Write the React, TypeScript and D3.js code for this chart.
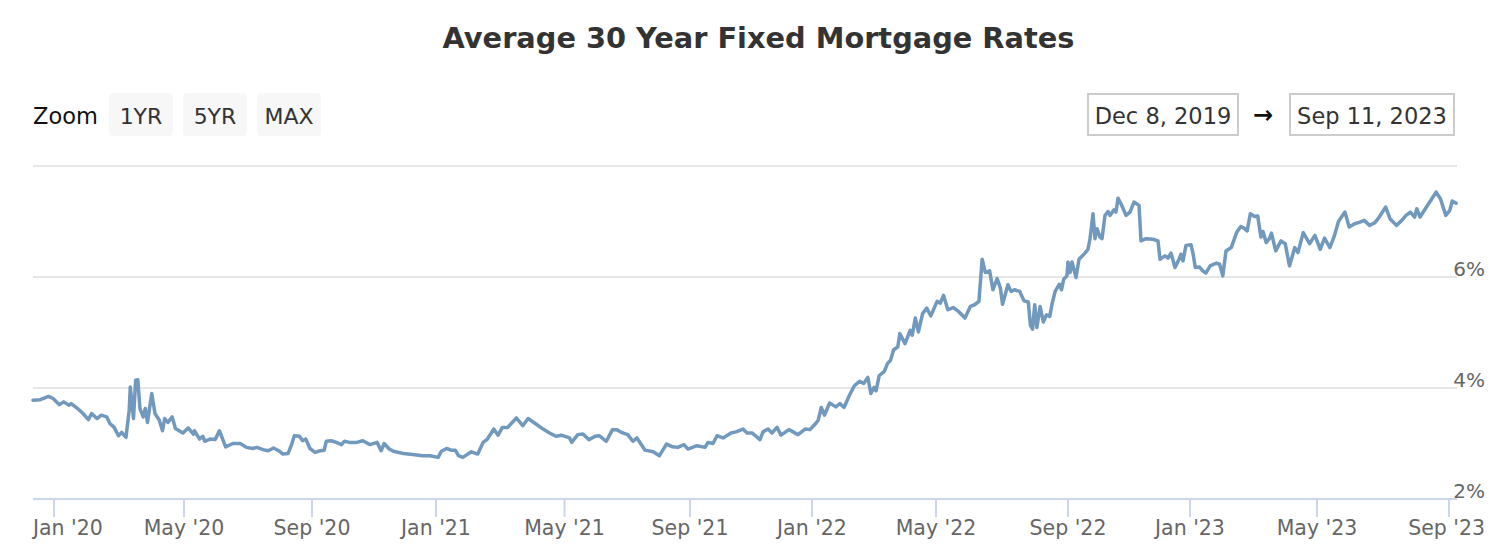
import React, { useEffect, useRef } from "react";
import * as d3 from "d3";

const TITLE = "Average 30 Year Fixed Mortgage Rates";
const ZOOM_LABEL = "Zoom";
const ZOOM_BUTTONS = ["1YR", "5YR", "MAX"];
const RANGE_FROM = "Dec 8, 2019";
const RANGE_TO = "Sep 11, 2023";
const Y_GRID = [4, 6, 8];
const Y_LABELLED = [2, 4, 6];

const DATES = [
  "2019-12-09","2019-12-17","2019-12-26","2019-12-31","2020-01-06","2020-01-10","2020-01-15","2020-01-17","2020-01-23","2020-01-28",
  "2020-02-02","2020-02-05","2020-02-10","2020-02-14","2020-02-19","2020-02-22","2020-02-26","2020-03-01","2020-03-04","2020-03-08",
  "2020-03-11","2020-03-12","2020-03-15","2020-03-17","2020-03-19","2020-03-21","2020-03-24","2020-03-26","2020-03-28","2020-04-01",
  "2020-04-04","2020-04-08","2020-04-11","2020-04-13","2020-04-16","2020-04-20","2020-04-23","2020-04-30","2020-05-05","2020-05-10",
  "2020-05-11","2020-05-16","2020-05-19","2020-05-21","2020-05-26","2020-05-31","2020-06-04","2020-06-10","2020-06-17","2020-06-24",
  "2020-06-30","2020-07-06","2020-07-10","2020-07-16","2020-07-21","2020-07-26","2020-07-31","2020-08-04","2020-08-09","2020-08-12",
  "2020-08-15","2020-08-20","2020-08-23","2020-08-26","2020-08-30","2020-09-04","2020-09-09","2020-09-13","2020-09-15","2020-09-20",
  "2020-09-25","2020-09-30","2020-10-03","2020-10-08","2020-10-15","2020-10-21","2020-10-28","2020-11-04","2020-11-08","2020-11-11",
  "2020-11-16","2020-11-20","2020-11-30","2020-12-09","2020-12-19","2020-12-26","2021-01-03","2021-01-06","2021-01-11","2021-01-15",
  "2021-01-19","2021-01-22","2021-01-26","2021-02-03","2021-02-09","2021-02-14","2021-02-18","2021-02-24","2021-02-28","2021-03-04",
  "2021-03-09","2021-03-17","2021-03-23","2021-03-28","2021-04-03","2021-04-11","2021-04-17","2021-04-23","2021-04-28","2021-05-06",
  "2021-05-08","2021-05-14","2021-05-19","2021-05-25","2021-05-31","2021-06-04","2021-06-11","2021-06-17","2021-06-21","2021-06-27",
  "2021-07-02","2021-07-07","2021-07-11","2021-07-19","2021-07-27","2021-08-02","2021-08-09","2021-08-15","2021-08-20","2021-08-26",
  "2021-08-30","2021-09-08","2021-09-16","2021-09-19","2021-09-24","2021-09-28","2021-10-04","2021-10-12","2021-10-17","2021-10-24",
  "2021-10-28","2021-11-02","2021-11-10","2021-11-13","2021-11-18","2021-11-22","2021-11-27","2021-12-01","2021-12-09","2021-12-18",
  "2021-12-25","2021-12-30","2022-01-05","2022-01-07","2022-01-10","2022-01-13","2022-01-18","2022-01-24","2022-01-28","2022-02-01",
  "2022-02-06","2022-02-11","2022-02-16","2022-02-20","2022-02-24","2022-02-27","2022-03-02","2022-03-04","2022-03-07","2022-03-12",
  "2022-03-15","2022-03-18","2022-03-21","2022-03-25","2022-03-27","2022-04-01","2022-04-06","2022-04-08","2022-04-11","2022-04-14",
  "2022-04-18","2022-04-22","2022-04-26","2022-05-02","2022-05-05","2022-05-08","2022-05-12","2022-05-17","2022-05-22","2022-05-28",
  "2022-06-02","2022-06-06","2022-06-10","2022-06-13","2022-06-16","2022-06-20","2022-06-23","2022-06-27","2022-06-30","2022-07-02",
  "2022-07-07","2022-07-10","2022-07-13","2022-07-18","2022-07-22","2022-07-26","2022-07-28","2022-07-30","2022-08-01","2022-08-03",
  "2022-08-06","2022-08-09","2022-08-12","2022-08-15","2022-08-17","2022-08-20","2022-08-24","2022-08-26","2022-08-28","2022-08-31",
  "2022-09-01","2022-09-03","2022-09-05","2022-09-09","2022-09-12","2022-09-18","2022-09-21","2022-09-23","2022-09-26","2022-09-28",
  "2022-09-30","2022-10-03","2022-10-05","2022-10-08","2022-10-11","2022-10-13","2022-10-17","2022-10-19","2022-10-21","2022-10-24",
  "2022-10-29","2022-11-02","2022-11-06","2022-11-11","2022-11-13","2022-11-18","2022-11-25","2022-11-30","2022-12-02","2022-12-07",
  "2022-12-10","2022-12-13","2022-12-17","2022-12-21","2022-12-23","2022-12-25","2022-12-28","2023-01-02","2023-01-04","2023-01-06",
  "2023-01-10","2023-01-13","2023-01-16","2023-01-20","2023-01-26","2023-01-29","2023-02-01","2023-02-04","2023-02-09","2023-02-14",
  "2023-02-18","2023-02-21","2023-02-24","2023-02-27","2023-03-03","2023-03-06","2023-03-09","2023-03-11","2023-03-14","2023-03-17",
  "2023-03-19","2023-03-23","2023-03-28","2023-04-01","2023-04-05","2023-04-10","2023-04-13","2023-04-18","2023-04-24","2023-04-29",
  "2023-05-04","2023-05-08","2023-05-13","2023-05-17","2023-05-21","2023-05-27","2023-05-31","2023-06-05","2023-06-10","2023-06-14",
  "2023-06-19","2023-06-24","2023-06-28","2023-07-04","2023-07-08","2023-07-14","2023-07-19","2023-07-23","2023-07-27","2023-07-31",
  "2023-08-02","2023-08-05","2023-08-11","2023-08-16","2023-08-20","2023-08-24","2023-08-29","2023-09-02","2023-09-05","2023-09-10"
];

const RATES = [
  3.78,3.79,3.85,3.81,3.70,3.75,3.69,3.72,3.63,3.54,
  3.43,3.54,3.45,3.51,3.48,3.36,3.29,3.14,3.20,3.11,
  3.60,4.02,3.45,4.14,4.15,3.63,3.48,3.63,3.38,3.90,
  3.54,3.42,3.23,3.45,3.38,3.48,3.27,3.19,3.28,3.17,
  3.23,3.08,3.13,3.04,3.08,3.07,3.23,2.94,3.00,3.00,
  2.93,2.91,2.93,2.89,2.87,2.92,2.87,2.81,2.82,2.96,
  3.14,3.13,3.05,3.08,2.91,2.84,2.87,2.88,3.04,3.05,
  3.02,2.98,3.04,3.02,3.02,3.05,2.98,3.02,2.87,3.00,
  2.90,2.86,2.82,2.80,2.78,2.78,2.75,2.86,2.91,2.88,
  2.88,2.78,2.75,2.85,2.81,3.02,3.08,3.26,3.15,3.29,
  3.29,3.46,3.32,3.45,3.37,3.26,3.19,3.13,3.15,3.10,
  3.02,3.16,3.17,3.07,3.13,3.14,3.04,3.25,3.25,3.19,
  3.16,3.04,3.10,2.88,2.85,2.78,2.99,2.94,2.93,2.98,
  2.90,2.96,2.93,3.02,3.00,3.14,3.10,3.19,3.21,3.26,
  3.19,3.19,3.07,3.21,3.26,3.19,3.29,3.15,3.25,3.16,
  3.26,3.25,3.37,3.42,3.65,3.51,3.73,3.66,3.72,3.65,
  3.86,4.04,4.12,4.08,4.19,3.90,4.01,3.95,4.22,4.30,
  4.44,4.50,4.69,4.74,4.98,4.80,5.04,4.95,5.26,5.01,
  5.34,5.44,5.30,5.56,5.53,5.67,5.41,5.45,5.38,5.26,
  5.47,5.50,5.56,6.32,6.08,6.11,5.77,5.97,5.80,5.51,
  5.86,5.74,5.77,5.74,5.57,5.55,5.13,5.06,5.50,5.09,
  5.47,5.19,5.32,5.29,5.50,5.74,5.87,5.77,5.96,6.02,
  6.27,6.08,6.27,5.99,6.32,6.43,6.50,6.69,7.14,6.69,
  6.87,6.72,6.69,7.11,7.18,7.11,7.21,7.17,7.42,7.32,
  7.11,7.17,7.35,7.29,6.65,6.69,6.68,6.65,6.32,6.38,
  6.34,6.43,6.17,6.32,6.41,6.29,6.57,6.58,6.41,6.17,
  6.18,6.11,6.07,6.20,6.25,6.23,6.02,6.47,6.53,6.80,
  6.91,6.88,6.83,7.14,7.09,7.10,6.72,6.82,6.62,6.69,
  6.79,6.47,6.65,6.60,6.20,6.53,6.44,6.80,6.60,6.75,
  6.50,6.70,6.53,6.73,7.00,7.17,6.90,6.96,6.99,7.02,
  6.93,6.98,7.08,7.26,7.05,6.93,7.02,7.11,7.17,7.08,
  7.23,7.08,7.26,7.41,7.53,7.41,7.11,7.20,7.37,7.33
];

// Ordinal (business-day) axis calibration: dates and where they sit.
const AXIS_ANCHOR_DATES = [
  "2019-12-09","2020-01-01","2020-05-01","2020-09-01","2021-01-01","2021-05-01","2021-09-01",
  "2022-01-01","2022-05-01","2022-09-01","2023-01-01","2023-05-01","2023-09-01","2023-09-11"
];

const FONT = "'DejaVu Sans', Verdana, sans-serif";

export default function App() {
  const ref = useRef<SVGSVGElement>(null);

  useEffect(() => {
    const svg = d3.select(ref.current);
    svg.selectAll("*").remove();

    const plotL = 33, plotR = 1457;
    const parse = d3.timeParse("%Y-%m-%d");
    const data = DATES.map((d, i) => ({ date: parse(d) as Date, v: RATES[i] }));

    const anchorX = [33, 54, 184, 312, 436, 564.5, 690, 812, 936, 1068, 1190, 1317, 1449, 1457];
    const x = d3.scaleTime<number>()
      .domain(AXIS_ANCHOR_DATES.map((d) => parse(d) as Date))
      .range(anchorX);
    const y = d3.scaleLinear().domain([2, 8]).range([499, 166]);

    // Title
    svg.append("text")
      .attr("x", 758.5).attr("y", 48)
      .attr("text-anchor", "middle")
      .attr("font-family", FONT).attr("font-weight", "bold")
      .attr("font-size", 28.8).attr("fill", "#333333")
      .text(TITLE);

    // Zoom label and buttons
    svg.append("text")
      .attr("x", 33).attr("y", 124)
      .attr("font-family", FONT).attr("font-size", 22.5).attr("fill", "#111")
      .text(ZOOM_LABEL);
    ZOOM_BUTTONS.forEach((b, i) => {
      const bx = 109 + i * 74;
      svg.append("rect")
        .attr("x", bx).attr("y", 93).attr("width", 64).attr("height", 43)
        .attr("rx", 4).attr("fill", "#f7f7f7");
      svg.append("text")
        .attr("x", bx + 32).attr("y", 124).attr("text-anchor", "middle")
        .attr("font-family", FONT).attr("font-size", 22).attr("fill", "#333333")
        .text(b);
    });

    // Range inputs
    const boxes = [
      { x0: 1088, x1: 1238, label: RANGE_FROM },
      { x0: 1290, x1: 1454, label: RANGE_TO },
    ];
    boxes.forEach((b) => {
      svg.append("rect")
        .attr("x", b.x0).attr("y", 94).attr("width", b.x1 - b.x0).attr("height", 41)
        .attr("fill", "none").attr("stroke", "#cccccc").attr("stroke-width", 2);
      svg.append("text")
        .attr("x", (b.x0 + b.x1) / 2).attr("y", 124).attr("text-anchor", "middle")
        .attr("font-family", FONT).attr("font-size", 22.5).attr("fill", "#333333")
        .text(b.label);
    });
    svg.append("text")
      .attr("x", 1263).attr("y", 123).attr("text-anchor", "middle")
      .attr("font-family", FONT).attr("font-size", 24).attr("font-weight", "bold")
      .attr("fill", "#111")
      .text("\u2192");

    // Grid lines
    Y_GRID.forEach((v) => {
      svg.append("line")
        .attr("x1", plotL).attr("x2", plotR)
        .attr("y1", y(v)).attr("y2", y(v))
        .attr("stroke", "#e6e6e6").attr("stroke-width", 2);
    });

    // Y labels (right side)
    Y_LABELLED.forEach((v) => {
      svg.append("text")
        .attr("x", 1485).attr("y", y(v) - 1).attr("text-anchor", "end")
        .attr("font-family", FONT).attr("font-size", 20).attr("fill", "#666666")
        .text(`${v}%`);
    });

    // X axis line
    svg.append("line")
      .attr("x1", plotL).attr("x2", plotR)
      .attr("y1", y(2)).attr("y2", y(2))
      .attr("stroke", "#ccd6eb").attr("stroke-width", 2);

    // X ticks
    const [d0, d1] = d3.extent(data, (d) => d.date) as [Date, Date];
    const ticks = d3.timeMonth.every(4)!.range(d0, d3.timeDay.offset(d1, 2));
    const fmt = d3.timeFormat("%b '%y");
    ticks.forEach((t) => {
      const tx = x(t);
      svg.append("line")
        .attr("x1", tx).attr("x2", tx)
        .attr("y1", y(2)).attr("y2", y(2) + 18)
        .attr("stroke", "#ccd6eb").attr("stroke-width", 2);
      const lbl = svg.append("text")
        .attr("x", tx).attr("y", 535).attr("text-anchor", "middle")
        .attr("font-family", FONT).attr("font-size", 20.5).attr("fill", "#666666")
        .text(fmt(t));
      const node = lbl.node() as SVGTextElement;
      const w = node.getComputedTextLength();
      if (tx - w / 2 < plotL) {
        lbl.attr("text-anchor", "start").attr("x", plotL);
      } else if (tx + w / 2 > 1485) {
        lbl.attr("text-anchor", "end").attr("x", 1485);
      }
    });

    // Series line
    const line = d3.line<{ date: Date; v: number }>()
      .x((d) => x(d.date))
      .y((d) => y(d.v));
    svg.append("path")
      .datum(data)
      .attr("d", line)
      .attr("fill", "none")
      .attr("stroke", "#7198bd")
      .attr("stroke-width", 3.5)
      .attr("stroke-linejoin", "round")
      .attr("stroke-linecap", "round");
  }, []);

  return (
    <svg
      ref={ref}
      width={1510}
      height={560}
      style={{ position: "absolute", left: 0, top: 0, background: "#fff" }}
    />
  );
}
